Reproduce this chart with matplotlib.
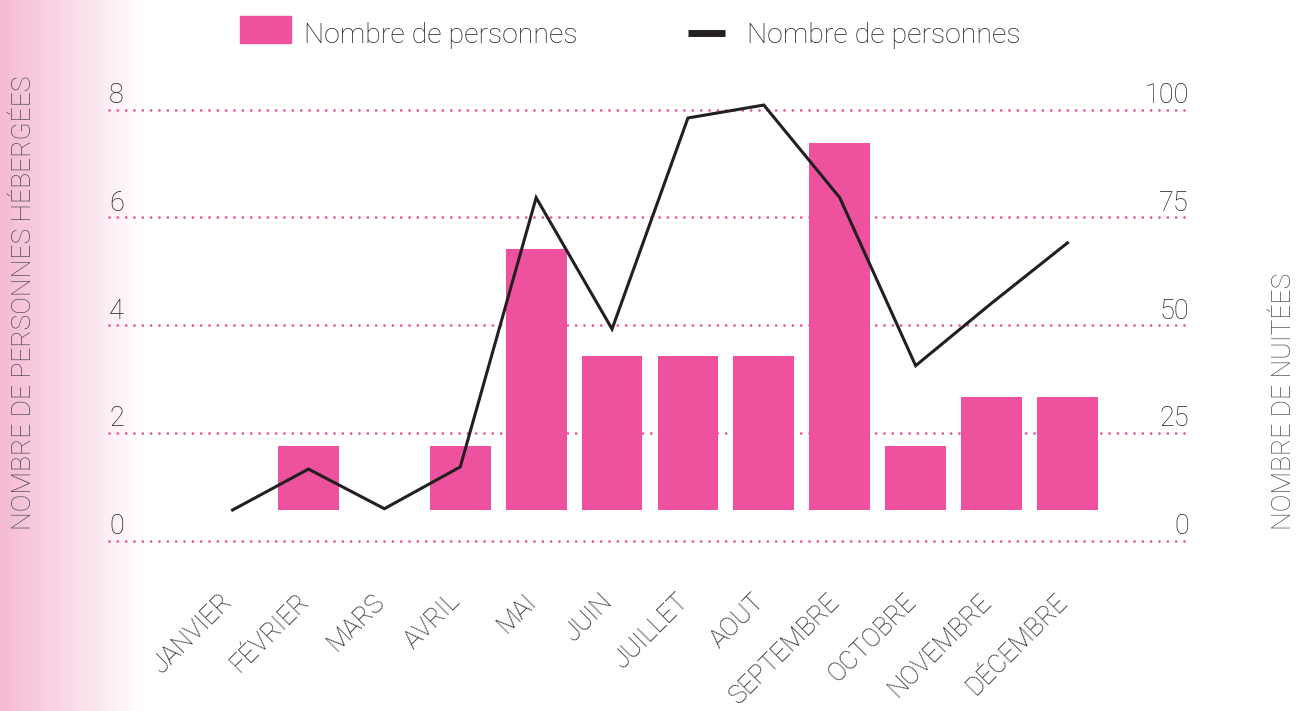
import numpy as np
import matplotlib
matplotlib.use('Agg')
import matplotlib.pyplot as plt
import matplotlib.transforms as mtransforms
from matplotlib.patches import Patch, Rectangle
from matplotlib.lines import Line2D
from matplotlib.legend_handler import HandlerPatch

# data
months = ['JANVIER', 'FÉVRIER', 'MARS', 'AVRIL', 'MAI', 'JUIN', 'JUILLET',
          'AOUT', 'SEPTEMBRE', 'OCTOBRE', 'NOVEMBRE', 'DÉCEMBRE']
persons = [0, 1.19, 0, 1.19, 4.85, 2.86, 2.86, 2.86, 6.82, 1.19, 2.10, 2.10]
nights = [0, 9.5, 0.3, 10, 72.5, 42, 91, 94, 72.5, 33.5, 48, 62]
left_ticks = [0, 2, 4, 6, 8]
right_ticks = [0, 25, 50, 75, 100]

PINK = '#EE529E'
DARK = '#231F20'
TITLE = '#4d4d4d'

plt.rcParams['font.family'] = ['Roboto', 'DejaVu Sans']
plt.rcParams['font.weight'] = 'light'

W, H = 1298, 711
fig = plt.figure(figsize=(W / 100, H / 100), dpi=100)


def rect(x0, y0, x1, y1):
    return [x0 / W, 1 - y1 / H, (x1 - x0) / W, (y1 - y0) / H]


# pink gradient along the left edge
bg = fig.add_axes(rect(0, 0, 145, H), zorder=-10)
t = np.linspace(0, 1, 300)[:, None]
pink = np.array([245, 186, 212]) / 255
grad = pink[None, :] * (1 - t) + t
bg.imshow(grad[None, :, :], aspect='auto')
bg.axis('off')

area = rect(109, 109.7, 1191, 540.5)
x = np.arange(len(months))
xlim = (-1.628, len(months) - 1 + 1.628)
# bars and line start 30 px above the zero gridline
offset = 30.5 / (430.8 / 8)

ax = fig.add_axes(area, zorder=1)
ax.set_xlim(*xlim)
ax.set_ylim(0, 8)
ax.patch.set_alpha(0)
for s in ax.spines.values():
    s.set_visible(False)
ax.set_yticks(left_ticks)
ax.tick_params(axis='y', length=0, labelleft=False)
ax.grid(axis='y', color=PINK, linestyle=(0, (0.01, 2.99)), linewidth=2,
        dash_capstyle='round')
for gl in ax.get_ygridlines():
    gl.set_clip_on(False)
ax.set_xticks(x)
ax.set_xticklabels(months, rotation=45, ha='right', va='top',
                   rotation_mode='anchor', fontsize=18.5, color=DARK)
ax.tick_params(axis='x', length=0, pad=35)
shift = mtransforms.ScaledTranslation(-12 / 100, 0, fig.dpi_scale_trans)
for lab in ax.get_xticklabels():
    lab.set_transform(lab.get_transform() + shift)

lab_tr = mtransforms.offset_copy(
    mtransforms.blended_transform_factory(ax.transAxes, ax.transData),
    fig=fig, x=0, y=6.5, units='dots')
for v in left_ticks:
    ax.text(0, v, str(v), transform=lab_tr, ha='left', va='baseline',
            fontsize=19.5, color=DARK)

axr = ax.twinx()
axr.set_ylim(0, 100)
axr.axis('off')
rlab_tr = mtransforms.offset_copy(
    mtransforms.blended_transform_factory(axr.transAxes, axr.transData),
    fig=fig, x=-2, y=6.5, units='dots')
for v in right_ticks:
    axr.text(1, v, str(v), transform=rlab_tr, ha='right', va='baseline',
             fontsize=19.5, color=DARK)

axb = fig.add_axes(area, zorder=2)
axb.set_xlim(*xlim)
axb.set_ylim(-offset, 8 - offset)
axb.bar(x, persons, width=0.80, color=PINK)
axb.axis('off')

axl = fig.add_axes(area, zorder=3)
axl.set_xlim(*xlim)
axl.set_ylim(-offset * 12.5, 100 - offset * 12.5)
axl.plot(x, nights, color=DARK, lw=2.2, solid_joinstyle='miter',
         clip_on=False)
axl.axis('off')

fig.text(24 / W, 1 - 530 / H, 'NOMBRE DE PERSONNES HÉBERGÉES', rotation=90,
         ha='center', va='bottom', fontsize=19, color=TITLE)
fig.text(1284 / W, 1 - 530 / H, 'NOMBRE DE NUITÉES', rotation=90,
         ha='center', va='bottom', fontsize=19, color=TITLE)


def square(legend, orig_handle, xdescent, ydescent, width, height, fontsize):
    # legend square sits on the text baseline, a bit taller than default
    return Rectangle((-xdescent, 0), width, 27 * 72 / 100)


fs = 20.5
fpx = fs * 100 / 72
fig.legend(handles=[Patch(color=PINK, label='Nombre de personnes')],
           handler_map={Patch: HandlerPatch(patch_func=square)},
           loc='upper left', bbox_to_anchor=(240 / W, 1 - 22 / H),
           frameon=False, borderpad=0, borderaxespad=0, fontsize=fs,
           handlelength=51 / fpx, handletextpad=13 / fpx, labelcolor=DARK)
fig.legend(handles=[Line2D([], [], color=DARK, lw=5,
                           solid_capstyle='butt', label='Nombre de personnes')],
           loc='upper left', bbox_to_anchor=(688 / W, 1 - 22 / H),
           frameon=False, borderpad=0, borderaxespad=0, fontsize=fs,
           handlelength=37 / fpx, handletextpad=22 / fpx, labelcolor=DARK)

fig.savefig('out.png', dpi=100)
